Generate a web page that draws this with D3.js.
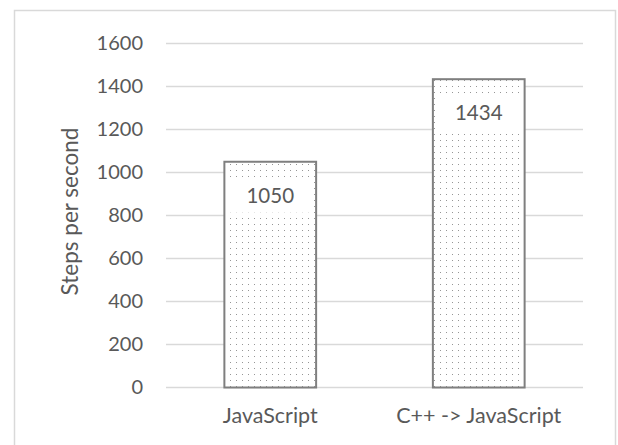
<!DOCTYPE html>
<html>
<head>
<meta charset="utf-8">
<script src="https://cdn.jsdelivr.net/npm/d3@7"></script>
<style>
  html, body { margin: 0; padding: 0; background: #fff; }
  svg { display: block; }
  text { font-family: Lato, "Open Sans", sans-serif; fill: #595959; }
</style>
</head>
<body>
<svg id="chart" width="618" height="445"></svg>
<script>
// Benchmark results: simulation steps per second
const categories = ["JavaScript", "C++ -> JavaScript"];
const stepsPerSecond = [1050, 1434];
const yTicks = [0, 200, 400, 600, 800, 1000, 1200, 1400, 1600];
const yTitle = "Steps per second";

const W = 618, H = 445;
const plot = { left: 166, right: 583, top: 43.5, bottom: 387.5 };

const svg = d3.select("#chart");

// outer chart frame
svg.append("rect")
  .attr("x", 14.5).attr("y", 10.5)
  .attr("width", 601).attr("height", 445)
  .attr("fill", "#fff").attr("stroke", "#d9d9d9").attr("stroke-width", 1.5);

// sparse dot fill for the bars
const defs = svg.append("defs");
const pat = defs.append("pattern")
  .attr("id", "dots").attr("patternUnits", "userSpaceOnUse")
  .attr("width", 6).attr("height", 6);
pat.append("rect").attr("width", 6).attr("height", 6).attr("fill", "#fff");
pat.append("rect").attr("x", 2).attr("y", 2).attr("width", 1).attr("height", 1).attr("fill", "#969696");

const x = d3.scaleBand()
  .domain(categories)
  .range([plot.left, plot.right])
  .paddingInner(0.56)
  .paddingOuter(0.28);

const y = d3.scaleLinear()
  .domain([0, 1600])
  .range([plot.bottom, plot.top]);

// horizontal gridlines
svg.append("g")
  .selectAll("line")
  .data(yTicks)
  .join("line")
  .attr("x1", plot.left).attr("x2", plot.right)
  .attr("y1", d => y(d)).attr("y2", d => y(d))
  .attr("stroke", "#d9d9d9").attr("stroke-width", 1.5);

// y axis tick labels
const yAxis = svg.append("g")
  .attr("transform", `translate(${plot.left},0)`)
  .call(d3.axisLeft(y).tickValues(yTicks).tickFormat(d3.format("d")).tickSize(0).tickPadding(23));
yAxis.select(".domain").remove();
yAxis.selectAll("text")
  .attr("font-size", 20)
  .style("font-family", "Lato, 'Open Sans', sans-serif")
  .attr("fill", "#595959");

// x axis category labels
const xAxis = svg.append("g")
  .attr("transform", `translate(0,${plot.bottom})`)
  .call(d3.axisBottom(x).tickSize(0).tickPadding(20));
xAxis.select(".domain").remove();
xAxis.selectAll("text")
  .attr("font-size", 21.5)
  .style("font-family", "Lato, 'Open Sans', sans-serif")
  .attr("fill", "#595959");

// y axis title
svg.append("text")
  .attr("transform", `translate(78,${(plot.top + plot.bottom) / 2 - 4}) rotate(-90)`)
  .attr("text-anchor", "middle")
  .attr("font-size", 22.5)
  .text(yTitle);

// bars
const data = categories.map((c, i) => ({ cat: c, value: stepsPerSecond[i] }));
svg.append("g")
  .selectAll("rect")
  .data(data)
  .join("rect")
  .attr("x", d => x(d.cat))
  .attr("y", d => y(d.value))
  .attr("width", x.bandwidth())
  .attr("height", d => y(0) - y(d.value))
  .attr("fill", "url(#dots)")
  .attr("stroke", "#7f7f7f").attr("stroke-width", 2);

// value labels with white backing, just inside the top of each bar
const labels = svg.append("g")
  .selectAll("g")
  .data(data)
  .join("g")
  .attr("transform", d => `translate(${x(d.cat) + x.bandwidth() / 2},${y(d.value) + 34})`);
labels.append("rect")
  .attr("x", -(x.bandwidth() - 8) / 2).attr("y", -18)
  .attr("width", x.bandwidth() - 8).attr("height", 35)
  .attr("fill", "#fff");
labels.append("text")
  .attr("text-anchor", "middle")
  .attr("dy", "0.35em")
  .attr("font-size", 20.5)
  .attr("fill", "#404040")
  .text(d => d.value);
</script>
</body>
</html>
